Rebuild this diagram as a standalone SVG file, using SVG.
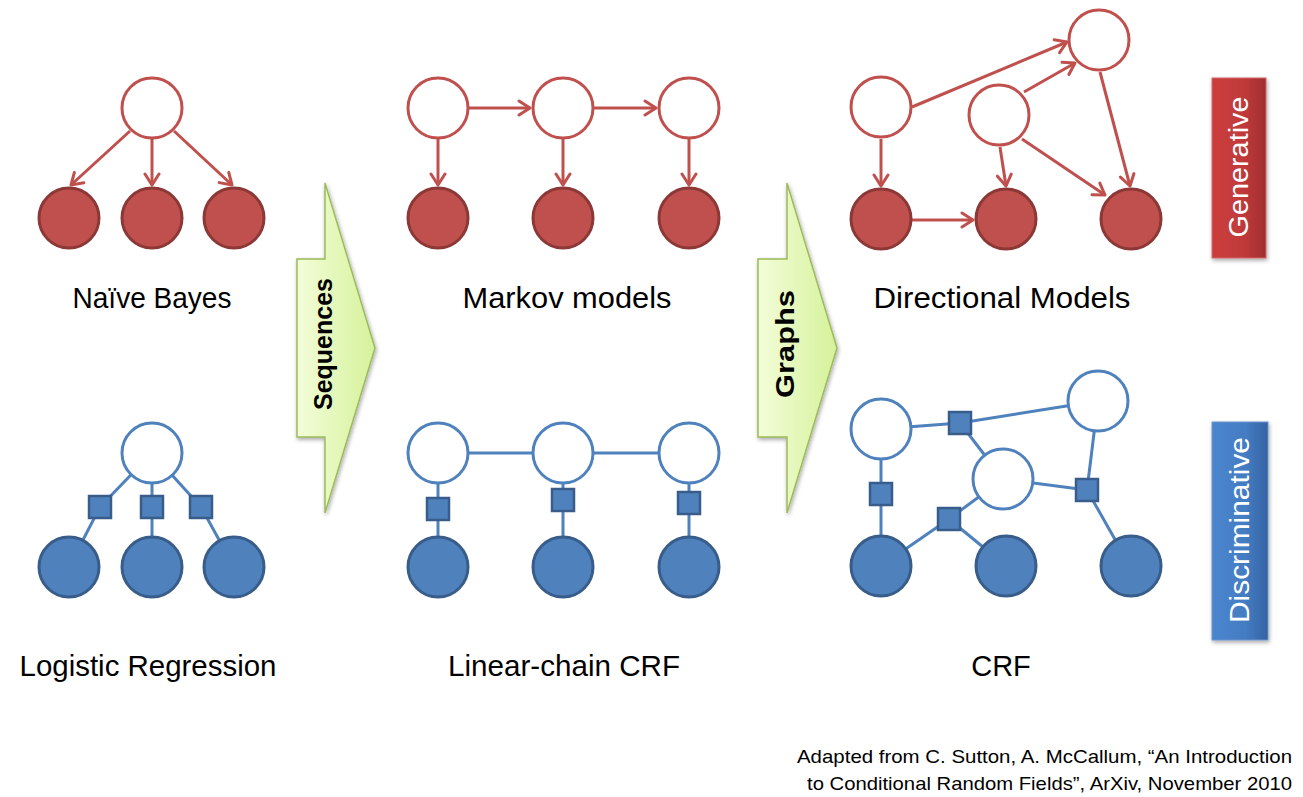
<svg xmlns="http://www.w3.org/2000/svg" width="1303" height="797" viewBox="0 0 1303 797">
<defs>
<linearGradient id="gGreen" x1="0" y1="0" x2="1" y2="0">
<stop offset="0" stop-color="#f3fdd9"/><stop offset="1" stop-color="#d5f29a"/>
</linearGradient>
<linearGradient id="gRed" x1="0" y1="0" x2="1" y2="0">
<stop offset="0" stop-color="#cc3e3c"/><stop offset="0.6" stop-color="#c0393a"/><stop offset="1" stop-color="#a02e30"/>
</linearGradient>
<linearGradient id="gBlue" x1="0" y1="0" x2="1" y2="0">
<stop offset="0" stop-color="#4a86cf"/><stop offset="0.6" stop-color="#447cc2"/><stop offset="1" stop-color="#3463a3"/>
</linearGradient>
<filter id="sh" x="-20%" y="-20%" width="140%" height="140%">
<feGaussianBlur in="SourceAlpha" stdDeviation="2"/><feOffset dx="1" dy="2"/>
<feComponentTransfer><feFuncA type="linear" slope="0.35"/></feComponentTransfer>
<feMerge><feMergeNode/><feMergeNode in="SourceGraphic"/></feMerge>
</filter>
<marker id="ah" markerUnits="userSpaceOnUse" markerWidth="18" markerHeight="18" viewBox="0 0 18 18" refX="15" refY="9" orient="auto">
<path d="M4,2 L15,9 L4,16" fill="none" stroke="#c0504d" stroke-width="3" stroke-linecap="round" stroke-linejoin="round"/>
</marker>
<style>
.ro{fill:#fff;stroke:#c0504d;stroke-width:3}
.rf{fill:#c0504d;stroke:#8c3836;stroke-width:3}
.bo{fill:#fff;stroke:#4f81bd;stroke-width:3}
.bf{fill:#4f81bd;stroke:#385d8a;stroke-width:3}
.sq{fill:#4f81bd;stroke:#385d8a;stroke-width:2.5}
.re{stroke:#c0504d;stroke-width:3;fill:none;marker-end:url(#ah)}
.be{stroke:#4f81bd;stroke-width:3;fill:none}
.lbl{font-family:"Liberation Sans",Arial,sans-serif;font-size:29px;fill:#000;text-anchor:middle}
.arr{fill:url(#gGreen);stroke:#9bbb59;stroke-width:1.5}
.at{font-family:"Liberation Sans",Arial,sans-serif;font-size:25px;font-weight:bold;fill:#000;text-anchor:middle}
.bt{font-family:"Liberation Sans",Arial,sans-serif;font-size:27px;fill:#fff;text-anchor:middle}
.ft{font-family:"Liberation Sans",Arial,sans-serif;font-size:19px;fill:#000;text-anchor:end}
</style>
</defs>
<rect width="1303" height="797" fill="#fff"/>

<g id="connectors">
<line class="re" x1="130" y1="131" x2="71" y2="185"/>
<line class="re" x1="152" y1="139" x2="152" y2="185"/>
<line class="re" x1="174" y1="131" x2="232" y2="185"/>
<line class="re" x1="469" y1="108" x2="530" y2="108"/>
<line class="re" x1="594" y1="108" x2="656" y2="108"/>
<line class="re" x1="438" y1="139" x2="438" y2="185"/>
<line class="re" x1="563" y1="139" x2="563" y2="185"/>
<line class="re" x1="689" y1="139" x2="689" y2="185"/>
<line class="re" x1="912" y1="107" x2="1067" y2="42"/>
<line class="re" x1="1024" y1="92" x2="1075" y2="63"/>
<line class="re" x1="1100" y1="72" x2="1130" y2="186"/>
<line class="re" x1="881" y1="139" x2="881" y2="186"/>
<line class="re" x1="912" y1="220" x2="973" y2="220"/>
<line class="re" x1="1000" y1="147" x2="1006" y2="186"/>
<line class="re" x1="1022" y1="139" x2="1105" y2="195"/>
<line class="be" x1="152" y1="453" x2="100" y2="507"/>
<line class="be" x1="100" y1="507" x2="69" y2="567"/>
<line class="be" x1="152" y1="453" x2="152" y2="567"/>
<line class="be" x1="152" y1="453" x2="201" y2="507"/>
<line class="be" x1="201" y1="507" x2="234" y2="567"/>
<line class="be" x1="438" y1="453" x2="689" y2="453"/>
<line class="be" x1="438" y1="453" x2="438" y2="567"/>
<line class="be" x1="563" y1="453" x2="563" y2="567"/>
<line class="be" x1="689" y1="453" x2="689" y2="567"/>
<line class="be" x1="881" y1="429" x2="960" y2="423"/>
<line class="be" x1="960" y1="423" x2="1098" y2="401"/>
<line class="be" x1="960" y1="423" x2="1003" y2="479"/>
<line class="be" x1="881" y1="429" x2="881" y2="566"/>
<line class="be" x1="881" y1="566" x2="949" y2="519"/>
<line class="be" x1="949" y1="519" x2="1003" y2="479"/>
<line class="be" x1="949" y1="519" x2="1006" y2="566"/>
<line class="be" x1="1003" y1="479" x2="1087" y2="490"/>
<line class="be" x1="1087" y1="490" x2="1098" y2="401"/>
<line class="be" x1="1087" y1="490" x2="1130" y2="566"/>
</g>

<g id="naive-bayes">
<circle class="ro" cx="152" cy="108" r="30"/>
<circle class="rf" cx="69" cy="218" r="30"/>
<circle class="rf" cx="152" cy="218" r="30"/>
<circle class="rf" cx="234" cy="218" r="30"/>
<text class="lbl" x="152" y="308" textLength="159" lengthAdjust="spacingAndGlyphs">Naïve Bayes</text>
</g>

<g id="markov-models">
<circle class="ro" cx="438" cy="108" r="30"/>
<circle class="ro" cx="563" cy="108" r="30"/>
<circle class="ro" cx="689" cy="108" r="30"/>
<circle class="rf" cx="438" cy="218" r="30"/>
<circle class="rf" cx="563" cy="218" r="30"/>
<circle class="rf" cx="689" cy="218" r="30"/>
<text class="lbl" x="567" y="308" textLength="209" lengthAdjust="spacingAndGlyphs">Markov models</text>
</g>

<g id="directional-models">
<circle class="ro" cx="881" cy="107" r="30"/>
<circle class="ro" cx="1099" cy="40" r="30"/>
<circle class="ro" cx="999" cy="115" r="30"/>
<circle class="rf" cx="881" cy="219" r="30"/>
<circle class="rf" cx="1006" cy="219" r="30"/>
<circle class="rf" cx="1131" cy="219" r="30"/>
<text class="lbl" x="1002" y="308" textLength="257" lengthAdjust="spacingAndGlyphs">Directional Models</text>
</g>

<g id="logistic-regression">
<circle class="bo" cx="152" cy="453" r="30"/>
<rect class="sq" x="89" y="496" width="22" height="22"/>
<rect class="sq" x="141" y="496" width="22" height="22"/>
<rect class="sq" x="190" y="496" width="22" height="22"/>
<circle class="bf" cx="69" cy="567" r="30"/>
<circle class="bf" cx="152" cy="567" r="30"/>
<circle class="bf" cx="234" cy="567" r="30"/>
<text class="lbl" x="148" y="676" textLength="257" lengthAdjust="spacingAndGlyphs">Logistic Regression</text>
</g>

<g id="linear-chain-crf">
<circle class="bo" cx="438" cy="453" r="30"/>
<circle class="bo" cx="563" cy="453" r="30"/>
<circle class="bo" cx="689" cy="453" r="30"/>
<rect class="sq" x="427" y="498" width="22" height="22"/>
<rect class="sq" x="552" y="489" width="22" height="22"/>
<rect class="sq" x="678" y="492" width="22" height="22"/>
<circle class="bf" cx="438" cy="567" r="30"/>
<circle class="bf" cx="563" cy="567" r="30"/>
<circle class="bf" cx="689" cy="567" r="30"/>
<text class="lbl" x="564" y="676" textLength="232" lengthAdjust="spacingAndGlyphs">Linear-chain CRF</text>
</g>

<g id="crf">
<circle class="bo" cx="881" cy="429" r="30"/>
<circle class="bo" cx="1098" cy="401" r="30"/>
<circle class="bo" cx="1003" cy="479" r="30"/>
<rect class="sq" x="949" y="412" width="22" height="22"/>
<rect class="sq" x="870" y="483" width="22" height="22"/>
<rect class="sq" x="938" y="508" width="22" height="22"/>
<rect class="sq" x="1076" y="479" width="22" height="22"/>
<circle class="bf" cx="881" cy="566" r="30"/>
<circle class="bf" cx="1006" cy="566" r="30"/>
<circle class="bf" cx="1131" cy="566" r="30"/>
<text class="lbl" x="1001" y="676">CRF</text>
</g>

<g id="sequences-arrow">
<polygon class="arr" points="297,259 325,259 325,183 375,348 325,513 325,437 297,437" filter="url(#sh)"/>
<text class="at" transform="translate(332,344) rotate(-90)" textLength="132" lengthAdjust="spacingAndGlyphs">Sequences</text>
</g>

<g id="graphs-arrow">
<polygon class="arr" points="758,259 787,259 787,183 837,348 787,513 787,437 758,437" filter="url(#sh)"/>
<text class="at" transform="translate(794,344) rotate(-90)" textLength="108" lengthAdjust="spacingAndGlyphs">Graphs</text>
</g>

<g id="generative">
<rect x="1212" y="78" width="54" height="180" fill="url(#gRed)" stroke="#d06a68" stroke-width="1" filter="url(#sh)"/>
<text class="bt" transform="translate(1248,167) rotate(-90)" textLength="141" lengthAdjust="spacingAndGlyphs">Generative</text>
</g>

<g id="discriminative">
<rect x="1212" y="422" width="56" height="218" fill="url(#gBlue)" stroke="#6a96cc" stroke-width="1" filter="url(#sh)"/>
<text class="bt" transform="translate(1249,530) rotate(-90)" textLength="186" lengthAdjust="spacingAndGlyphs">Discriminative</text>
</g>

<g id="citation">
<text class="ft" x="1292" y="763" textLength="495" lengthAdjust="spacingAndGlyphs">Adapted from C. Sutton, A. McCallum, “An Introduction</text>
<text class="ft" x="1292" y="790" textLength="485" lengthAdjust="spacingAndGlyphs">to Conditional Random Fields”, ArXiv, November 2010</text>
</g>
</svg>
